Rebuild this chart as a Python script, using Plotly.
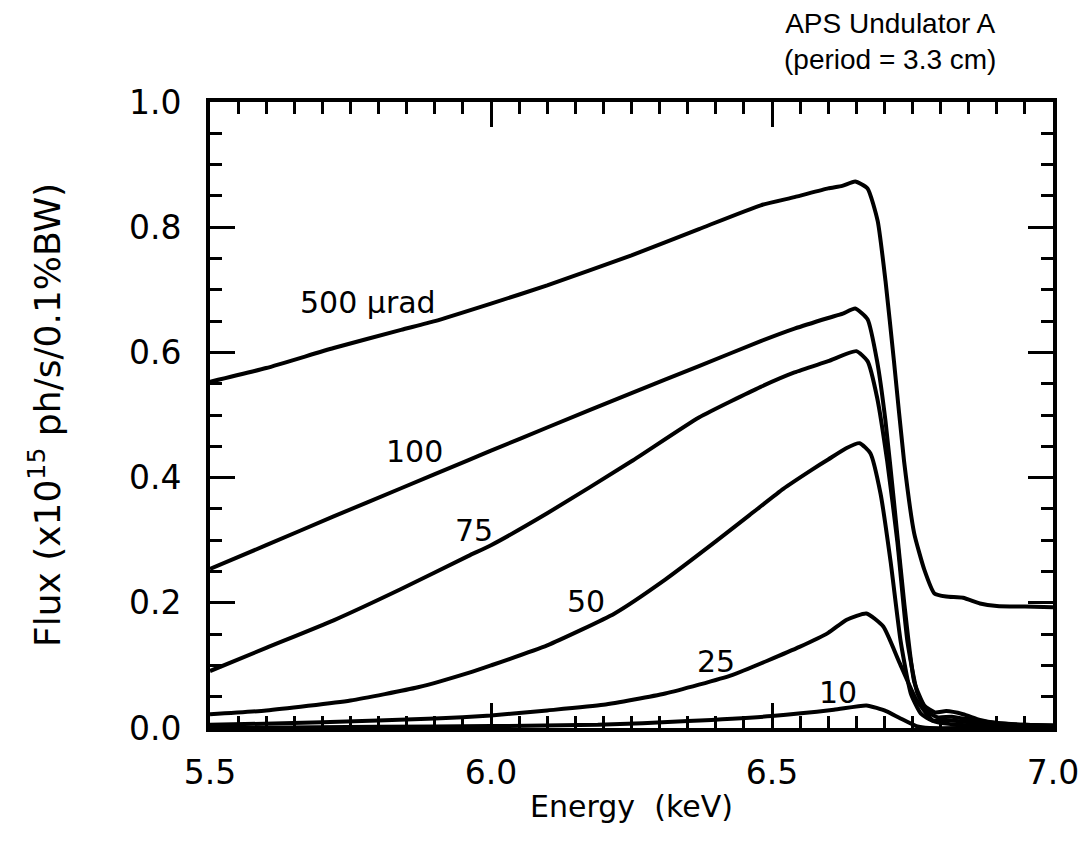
import plotly.graph_objects as go

# ---- data (Energy keV, Flux x1e15 ph/s/0.1%BW) ----
E_500 = [5.5, 5.6, 5.72, 5.84, 5.9, 6.0, 6.1, 6.25, 6.37, 6.48, 6.54, 6.6, 6.625, 6.648, 6.67,
         6.688, 6.702, 6.717, 6.735, 6.753, 6.771, 6.789, 6.81, 6.84, 6.87, 6.9, 6.95, 7.0]
F_500 = [0.553, 0.575, 0.607, 0.636, 0.650, 0.678, 0.707, 0.755, 0.797, 0.835, 0.848, 0.862, 0.866, 0.873, 0.862,
         0.81, 0.714, 0.586, 0.426, 0.311, 0.253, 0.215, 0.21, 0.208, 0.199, 0.195, 0.194, 0.193]

E_100 = [5.5, 5.6, 5.72, 5.84, 5.96, 6.0, 6.1, 6.25, 6.37, 6.48, 6.54, 6.6, 6.626, 6.648, 6.67,
         6.687, 6.702, 6.717, 6.735, 6.753, 6.771, 6.79, 6.81, 6.84, 6.87, 6.9, 6.95, 7.0]
F_100 = [0.254, 0.292, 0.338, 0.383, 0.428, 0.443, 0.480, 0.535, 0.578, 0.618, 0.638, 0.655, 0.662, 0.670, 0.653,
         0.586, 0.49, 0.362, 0.202, 0.074, 0.036, 0.025, 0.027, 0.022, 0.013, 0.008, 0.005, 0.004]

E_75 = [5.5, 5.6, 5.72, 5.84, 5.96, 6.0, 6.1, 6.25, 6.37, 6.48, 6.54, 6.6, 6.65, 6.67,
        6.687, 6.705, 6.723, 6.741, 6.759, 6.777, 6.795, 6.82, 6.86, 6.9, 6.95, 7.0]
F_75 = [0.091, 0.128, 0.172, 0.222, 0.275, 0.292, 0.343, 0.426, 0.496, 0.545, 0.568, 0.586, 0.602, 0.586,
        0.528, 0.426, 0.298, 0.138, 0.055, 0.026, 0.017, 0.018, 0.012, 0.008, 0.005, 0.004]

E_50 = [5.5, 5.6, 5.75, 5.87, 5.96, 6.0, 6.1, 6.22, 6.31, 6.4, 6.46, 6.52, 6.57, 6.6, 6.632, 6.656,
        6.675, 6.693, 6.711, 6.729, 6.747, 6.765, 6.785, 6.82, 6.86, 6.9, 7.0]
F_50 = [0.022, 0.028, 0.044, 0.065, 0.088, 0.100, 0.132, 0.183, 0.237, 0.298, 0.340, 0.382, 0.412, 0.429, 0.447, 0.455,
        0.439, 0.375, 0.266, 0.138, 0.055, 0.023, 0.012, 0.012, 0.008, 0.005, 0.003]

E_25 = [5.5, 5.7, 5.9, 6.0, 6.1, 6.2, 6.31, 6.43, 6.55, 6.6, 6.633, 6.668, 6.698, 6.727, 6.757,
        6.787, 6.82, 6.9, 7.0]
F_25 = [0.005, 0.009, 0.015, 0.020, 0.028, 0.037, 0.055, 0.085, 0.130, 0.152, 0.173, 0.183, 0.162, 0.104, 0.045,
        0.011, 0.006, 0.003, 0.002]

E_10 = [5.5, 5.8, 6.0, 6.19, 6.35, 6.5, 6.61, 6.668, 6.703, 6.727, 6.757, 6.78, 6.85, 7.0]
F_10 = [0.0, 0.002, 0.003, 0.005, 0.011, 0.019, 0.029, 0.036, 0.027, 0.016, 0.003, 0.0, 0.0, 0.0]

series = [(E_500, F_500), (E_100, F_100), (E_75, F_75), (E_50, F_50), (E_25, F_25), (E_10, F_10)]

label_text = ["500 \u00b5rad", "100", "75", "50", "25", "10"]
label_E = [5.781, 5.863, 5.970, 6.169, 6.400, 6.618]
label_F = [0.679, 0.442, 0.315, 0.202, 0.107, 0.056]

FONT = "DejaVu Sans"

fig = go.Figure()
for E, F in series:
    fig.add_trace(go.Scatter(x=E, y=F, mode="lines",
                             line=dict(color="black", width=4, shape="spline", smoothing=0.5),
                             showlegend=False, hoverinfo="skip"))
# invisible trace to activate the minor-tick overlay axes
fig.add_trace(go.Scatter(x=[5.5, 7.0], y=[0, 1], mode="lines", xaxis="x2", yaxis="y2",
                         line=dict(width=0, color="rgba(0,0,0,0)"), showlegend=False, hoverinfo="skip"))

for t, x, y in zip(label_text, label_E, label_F):
    fig.add_annotation(x=x, y=y, text=t, showarrow=False, xanchor="center", yanchor="middle",
                       font=dict(family=FONT, size=30, color="black"))

fig.add_annotation(xref="paper", yref="paper", x=0.807, y=1.097,
                   text="APS Undulator A<br>(period = 3.3 cm)", showarrow=False,
                   xanchor="center", yanchor="middle", align="center",
                   font=dict(family="Liberation Sans", size=28, color="black"))

axis_common = dict(showline=True, linecolor="black", linewidth=4, mirror="allticks",
                   ticks="inside", ticklen=25, tickwidth=3, tickcolor="black",
                   showgrid=False, zeroline=False,
                   tickfont=dict(family=FONT, size=33, color="black"))

fig.update_layout(
    xaxis=dict(range=[5.5, 7.0], dtick=0.5, tick0=5.5, tickformat=".1f",
               title=dict(text="Energy\u00a0 (keV)", font=dict(family=FONT, size=30, color="black"), standoff=6),
               ticklabelstandoff=12, **axis_common),
    yaxis=dict(range=[0, 1.0], dtick=0.2, tick0=0, tickformat=".1f",
               title=dict(text="Flux (x10<sup>15</sup> ph/s/0.1%BW)", font=dict(family=FONT, size=36, color="black"), standoff=58),
               ticklabelstandoff=18, **axis_common),
    xaxis2=dict(overlaying="x", matches="x", range=[5.5, 7.0], dtick=0.05, tick0=5.5,
                showline=True, linecolor="black", linewidth=4, mirror="allticks",
                ticks="inside", ticklen=12, tickwidth=3, tickcolor="black",
                showticklabels=False, showgrid=False, zeroline=False, side="bottom", anchor="y2"),
    yaxis2=dict(overlaying="y", matches="y", range=[0, 1.0], dtick=0.05, tick0=0,
                showline=True, linecolor="black", linewidth=4, mirror="allticks",
                ticks="inside", ticklen=12, tickwidth=3, tickcolor="black",
                showticklabels=False, showgrid=False, zeroline=False, side="left", anchor="x2"),
    width=1086, height=852, paper_bgcolor="white", plot_bgcolor="white",
    margin=dict(l=210, r=33, t=102, b=124, autoexpand=False))

fig.write_html("out.html")
